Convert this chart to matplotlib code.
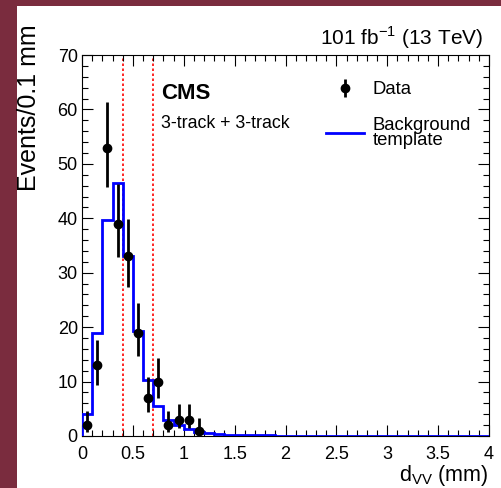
import matplotlib
import numpy as np

matplotlib.use("Agg")
import matplotlib.pyplot as plt
from matplotlib.lines import Line2D
from matplotlib.patches import Rectangle

plt.rcParams["font.family"] = ["Liberation Sans", "DejaVu Sans"]
plt.rcParams["mathtext.fontset"] = "custom"
plt.rcParams["mathtext.rm"] = "Liberation Sans"

# Data points (bin centres, counts, asymmetric errors)
data_x = [0.05, 0.15, 0.25, 0.35, 0.45, 0.55, 0.65, 0.75, 0.85, 0.95, 1.05, 1.15]
data_y = [2, 13, 53, 39, 33, 19, 7, 10, 2, 3, 3, 1]
err_lo = [1.3, 3.6, 7.3, 6.2, 5.7, 4.3, 2.6, 3.1, 1.3, 1.6, 1.6, 0.8]
err_hi = [2.6, 4.7, 8.3, 7.3, 6.8, 5.4, 3.8, 4.3, 2.6, 2.9, 2.9, 2.3]

# Background template, 0.1 mm bins from 0 to 4 mm
bkg_edges = np.round(np.arange(0, 4.01, 0.1), 2)
bkg = [4.0, 19.0, 39.6, 46.4, 33.0, 19.3, 10.3, 5.6, 3.0, 2.0,
       1.2, 0.8, 0.5, 0.35, 0.25, 0.2, 0.15, 0.12, 0.1, 0.08,
       0.07, 0.06, 0.05, 0.04, 0.04, 0.03, 0.03, 0.03, 0.02, 0.02,
       0.02, 0.02, 0.02, 0.01, 0.01, 0.01, 0.01, 0.01, 0.01, 0.01]

cut_lines = [0.4, 0.7]

fig = plt.figure(figsize=(5.01, 4.88), dpi=100)
fig.patch.set_facecolor("#7a2c3e")
fig.patches.append(Rectangle((17 / 501, 0), 1 - 17 / 501, (488 - 6) / 488,
                             transform=fig.transFigure, facecolor="white",
                             edgecolor="none", zorder=-10))

ax = fig.add_axes([82 / 501, (488 - 436) / 488, (489 - 82) / 501, (436 - 55) / 488])

ax.stairs(bkg, bkg_edges, color="#0000ff", linewidth=2, zorder=2.6)
for xc in cut_lines:
    ax.axvline(xc, color="#ff0000", linestyle=(0, (1.5, 1.5)), linewidth=1.2, zorder=1)
data_h = ax.errorbar(data_x, data_y, yerr=[err_lo, err_hi], fmt="o", color="black",
                     markersize=6, elinewidth=2, capsize=0, zorder=3)

ax.set_xlim(0, 4)
ax.set_ylim(0, 70)
ax.set_xticks(np.arange(0, 4.01, 0.5))
ax.set_xticklabels(["0", "0.5", "1", "1.5", "2", "2.5", "3", "3.5", "4"])
ax.set_xticks(np.arange(0, 4.01, 0.1), minor=True)
ax.set_yticks(np.arange(0, 71, 10))
ax.set_yticks(np.arange(0, 71, 2), minor=True)
ax.tick_params(which="both", direction="in", top=True, right=True, labelsize=13, width=0.8)
ax.tick_params(which="major", length=8)
ax.tick_params(which="minor", length=4)
ax.tick_params(axis="x", pad=7.5)
ax.tick_params(axis="y", pad=3)
for sp in ax.spines.values():
    sp.set_linewidth(0.8)

ax.set_xlabel(r"d$_{\mathrm{VV}}$ (mm)", fontsize=15.5, loc="right")
ax.xaxis.set_label_coords(1.0, -0.07)
ax.set_ylabel("Events/0.1 mm", fontsize=18, loc="top")
ax.yaxis.set_label_coords(-0.100, 1.08)

ax.text(0.194, 0.898, "CMS", transform=ax.transAxes, fontsize=16, fontweight="bold",
        ha="left", va="center")
ax.text(0.194, 0.819, "3-track + 3-track", transform=ax.transAxes, fontsize=12.8,
        ha="left", va="center")
ax.text(0.985, 1.026, r"101 fb$^{-1}$ (13 TeV)", transform=ax.transAxes, fontsize=15,
        ha="right", va="baseline")

bkg_h = Line2D([0], [0], color="#0000ff", linewidth=2)
leg = ax.legend(
    [data_h, bkg_h], ["Data", "Background\ntemplate"],
    loc="upper left", bbox_to_anchor=(0.578, 0.955), frameon=False, fontsize=13.3,
    handlelength=2.05, labelspacing=1.0, handletextpad=0.45, borderpad=0,
)
leg.get_texts()[1].set_linespacing(0.85)

fig.savefig("out.png", dpi=100, facecolor=fig.get_facecolor())
